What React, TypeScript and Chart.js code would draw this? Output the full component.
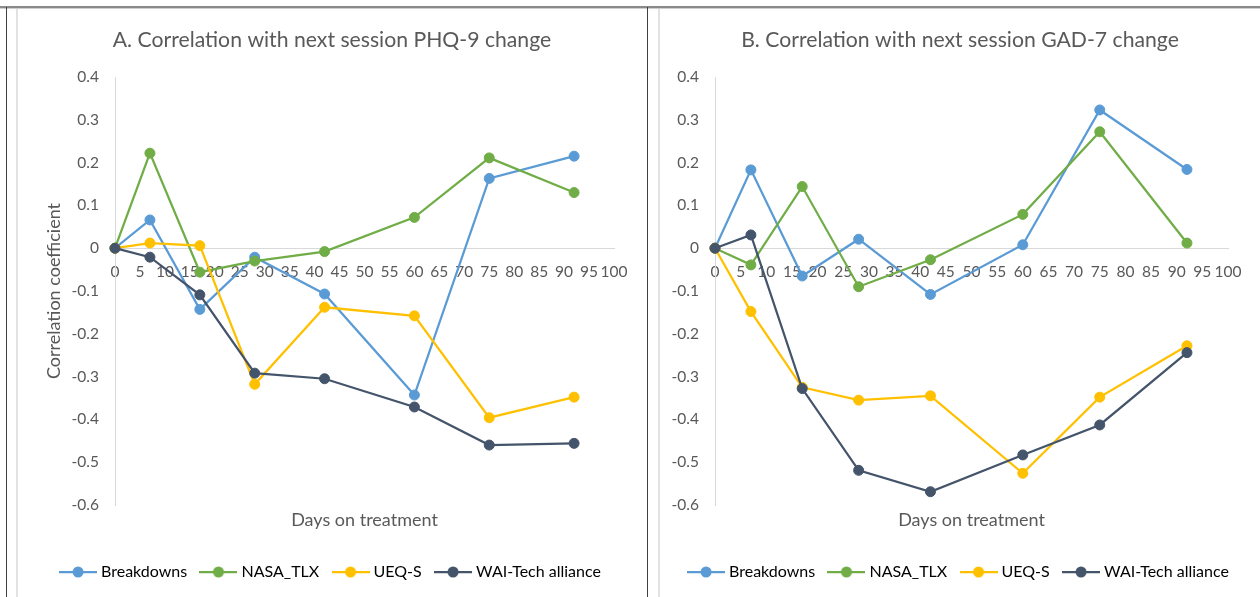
import React, { useEffect, useRef } from 'react';
import { Chart, registerables } from 'chart.js';

Chart.register(...registerables);

const FONT_FAMILY = 'Lato, "Noto Sans", sans-serif';
const TEXT_COLOR = '#595959';
const AXIS_COLOR = '#d9d9d9';
const TICK_SIZE = 15.5;
const LEGEND_SIZE = 16;
const AXIS_TITLE_SIZE = 18;
const TITLE_SIZE = 21.2;

const DAYS = [0, 7, 17, 28, 42, 60, 75, 92];
const SERIES_LABELS = ['Breakdowns', 'NASA_TLX', 'UEQ-S', 'WAI-Tech alliance'];
const SERIES_COLORS = ['#5B9BD5', '#70AD47', '#FFC000', '#44546A'];

const PHQ9_BREAKDOWNS = [0, 0.066, -0.143, -0.021, -0.107, -0.343, 0.163, 0.215];
const PHQ9_NASA_TLX = [0, 0.222, -0.056, -0.03, -0.008, 0.072, 0.211, 0.13];
const PHQ9_UEQ_S = [0, 0.012, 0.006, -0.318, -0.138, -0.158, -0.396, -0.348];
const PHQ9_WAI_TECH = [0, -0.021, -0.109, -0.292, -0.305, -0.371, -0.46, -0.456];

const GAD7_BREAKDOWNS = [0, 0.183, -0.065, 0.021, -0.108, 0.008, 0.323, 0.184];
const GAD7_NASA_TLX = [0, -0.039, 0.144, -0.09, -0.027, 0.079, 0.272, 0.012];
const GAD7_UEQ_S = [0, -0.148, -0.325, -0.355, -0.345, -0.526, -0.348, -0.228];
const GAD7_WAI_TECH = [0, 0.031, -0.328, -0.519, -0.569, -0.483, -0.413, -0.244];

const X_TICKS = [0, 5, 10, 15, 20, 25, 30, 35, 40, 45, 50, 55, 60, 65, 70, 75, 80, 85, 90, 95, 100];
const Y_TICKS = [-0.6, -0.5, -0.4, -0.3, -0.2, -0.1, 0, 0.1, 0.2, 0.3, 0.4];

const TITLE_A = 'A. Correlation with next session PHQ-9 change';
const TITLE_B = 'B. Correlation with next session GAD-7 change';
const X_TITLE = 'Days on treatment';
const Y_TITLE = 'Correlation coefficient';

function makeLegendMarker(color: string) {
  const c = document.createElement('canvas');
  c.width = 38;
  c.height = 14;
  const ctx = c.getContext('2d')!;
  ctx.strokeStyle = color;
  ctx.lineWidth = 2.25;
  ctx.beginPath();
  ctx.moveTo(0, 7);
  ctx.lineTo(38, 7);
  ctx.stroke();
  ctx.fillStyle = color;
  ctx.beginPath();
  ctx.arc(19, 7, 5.5, 0, Math.PI * 2);
  ctx.fill();
  return c;
}

type PanelProps = {
  title: string;
  series: number[][];
  yTitle?: string;
  left: number;
  width: number;
  yAxisWidth: number;
  rightGap: number;
};

const CANVAS_H = 587;

function Panel(p: PanelProps) {
  const ref = useRef<HTMLCanvasElement>(null);
  useEffect(() => {
    const markers = SERIES_COLORS.map(makeLegendMarker);
    const font = { family: FONT_FAMILY, size: TICK_SIZE };
    const titleFont = { family: FONT_FAMILY, size: AXIS_TITLE_SIZE };
    const legendFont = { family: FONT_FAMILY, size: LEGEND_SIZE };
    const chart = new Chart(ref.current!, {
      type: 'line',
      data: {
        datasets: p.series.map((vals, i) => ({
          label: SERIES_LABELS[i],
          data: DAYS.map((d, j) => ({ x: d, y: vals[j] })),
          xAxisID: 'x',
          yAxisID: 'y',
          borderColor: SERIES_COLORS[i],
          backgroundColor: SERIES_COLORS[i],
          pointBackgroundColor: SERIES_COLORS[i],
          pointBorderColor: SERIES_COLORS[i],
          pointRadius: 5,
          pointBorderWidth: 1,
          borderWidth: 2.25,
          tension: 0,
          clip: false,
          order: SERIES_LABELS.length - i,
        })),
      },
      options: {
        animation: false,
        responsive: false,
        devicePixelRatio: 1,
        events: [],
        layout: { padding: { left: 0, right: 0, top: 0, bottom: 7 } },
        scales: {
          x: {
            type: 'linear',
            min: 0,
            max: 100,
            position: { y: 0 },
            grid: { display: false, drawTicks: false },
            border: { display: true, color: AXIS_COLOR, width: 1 },
            afterBuildTicks: (s: any) => {
              s.ticks = X_TICKS.map((v) => ({ value: v }));
            },
            afterFit: (s: any) => {
              s.height = 0;
            },
            ticks: {
              autoSkip: false,
              maxRotation: 0,
              minRotation: 0,
              padding: 14,
              color: TEXT_COLOR,
              font,
              callback: (v: any) => String(v),
            },
          },
          xTitle: {
            type: 'linear',
            axis: 'x',
            position: 'bottom',
            grid: { display: false, drawTicks: false },
            border: { display: false },
            ticks: { display: false },
            title: {
              display: true,
              text: X_TITLE,
              color: TEXT_COLOR,
              font: titleFont,
              padding: { top: 4.2, bottom: 16.9 },
            },
          },
          y: {
            type: 'linear',
            min: -0.6,
            max: 0.4,
            position: 'left',
            grid: { display: false, drawTicks: false },
            border: { display: true, color: AXIS_COLOR, width: 1 },
            afterBuildTicks: (s: any) => {
              s.ticks = Y_TICKS.map((v) => ({ value: v }));
            },
            afterFit: (s: any) => {
              s.width = p.yAxisWidth;
            },
            ticks: {
              padding: 16,
              color: TEXT_COLOR,
              font,
              callback: (v: any) => String(v),
            },
            title: {
              display: !!p.yTitle,
              text: p.yTitle || '',
              color: TEXT_COLOR,
              font: titleFont,
              padding: { top: 26.2, bottom: 0 },
            },
          },
          yGap: {
            type: 'linear',
            axis: 'y',
            position: 'right',
            grid: { display: false, drawTicks: false },
            border: { display: false },
            ticks: { display: false },
            afterFit: (s: any) => {
              s.width = p.rightGap;
            },
          },
        },
        plugins: {
          title: {
            display: true,
            text: p.title,
            color: TEXT_COLOR,
            font: { family: FONT_FAMILY, size: TITLE_SIZE, weight: 'normal' },
            padding: { top: 17.3, bottom: 24.26 },
          },
          legend: {
            position: 'bottom',
            labels: {
              usePointStyle: true,
              pointStyleWidth: 30,
              boxHeight: LEGEND_SIZE,
              padding: 16.3,
              color: TEXT_COLOR,
              font: legendFont,
              generateLabels: (c: any) =>
                c.data.datasets.map((ds: any, i: number) => ({
                  text: ds.label,
                  fillStyle: SERIES_COLORS[i],
                  strokeStyle: SERIES_COLORS[i],
                  lineWidth: 0,
                  pointStyle: markers[i],
                  hidden: false,
                  datasetIndex: i,
                })),
            },
          },
          tooltip: { enabled: false },
        },
      } as any,
    });
    return () => chart.destroy();
  }, []);
  return (
    <canvas
      ref={ref}
      width={p.width}
      height={CANVAS_H}
      style={{ position: 'absolute', left: p.left, top: 10, width: p.width, height: CANVAS_H, display: 'block' }}
    />
  );
}

export default function App() {
  const line = (style: React.CSSProperties) => <div style={{ position: 'absolute', ...style }} />;
  return (
    <div style={{ position: 'absolute', left: 0, top: 0, width: 1260, height: 597, background: '#ffffff', overflow: 'hidden' }}>
      <Panel
        title={TITLE_A}
        series={[PHQ9_BREAKDOWNS, PHQ9_NASA_TLX, PHQ9_UEQ_S, PHQ9_WAI_TECH]}
        yTitle={Y_TITLE}
        left={17}
        width={630}
        yAxisWidth={98}
        rightGap={33}
      />
      <Panel
        title={TITLE_B}
        series={[GAD7_BREAKDOWNS, GAD7_NASA_TLX, GAD7_UEQ_S, GAD7_WAI_TECH]}
        left={660}
        width={600}
        yAxisWidth={55}
        rightGap={32}
      />
      {line({ left: 0, top: 6, width: 1260, height: 2, background: '#8a8a8a' })}
      {line({ left: 0, top: 8, width: 1260, height: 1, background: '#cfcfcf' })}
      {line({ left: 6, top: 7, width: 1, height: 590, background: '#404040' })}
      {line({ left: 16, top: 9, width: 2, height: 588, background: '#e2e2e2' })}
      {line({ left: 647, top: 7, width: 1, height: 590, background: '#404040' })}
      {line({ left: 658, top: 9, width: 2, height: 588, background: '#e2e2e2' })}
    </div>
  );
}
